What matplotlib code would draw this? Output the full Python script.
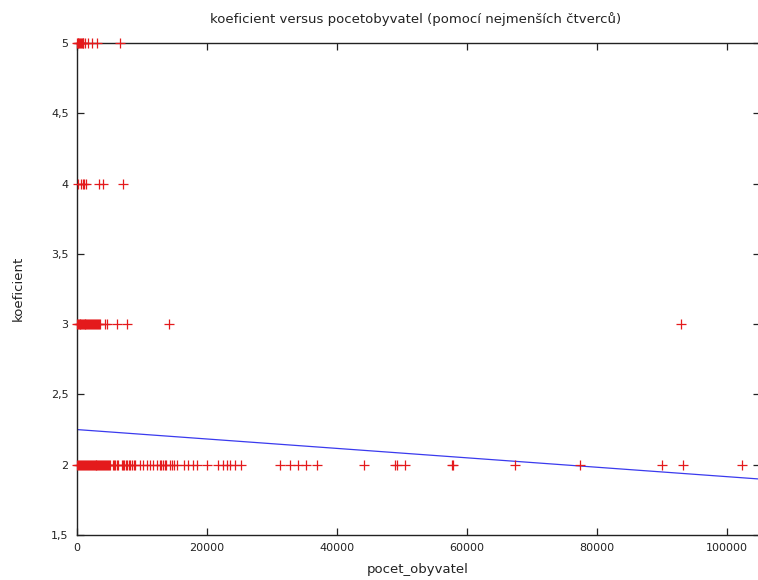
import matplotlib
matplotlib.use("Agg")
import matplotlib.pyplot as plt
from matplotlib.ticker import FuncFormatter

# x values (pocet obyvatel) for each koeficient level
x_level5 = [40, 120, 210, 330, 450, 560, 700, 850, 1000, 1230, 1690, 2300, 3080, 6600]
x_level4 = [150, 620, 870, 1080, 1330, 3430, 4050, 7120]
x_level3 = [30, 150, 280, 400, 520, 650, 780, 900, 1030, 1160, 1290, 1420, 1550, 1700,
            1850, 2000, 2150, 2300, 2450, 2600, 2750, 2900, 3050, 3200, 3350, 3500,
            4300, 4600, 6100, 7650, 14200, 92900]
x_level2 = [20, 150, 300, 450, 600, 750, 900, 1050, 1200, 1350, 1500, 1650, 1800, 1950,
            2100, 2250, 2400, 2550, 2700, 2850, 3000, 3150, 3300, 3450, 3600, 3750,
            3900, 4050, 4200, 4350, 4500, 4650, 4800, 4950, 5100,
            5500, 5700, 5900, 6100, 6300, 6900, 7100, 7300, 7500, 7700,
            8000, 8200, 8450, 8700, 8900,
            9700, 10200, 10700, 11200, 11700, 12300, 12800,
            13000, 13250, 13500, 13700, 14300, 14650, 15000, 15400,
            16500, 17100, 17800, 18500, 19950,
            21700, 22500, 23100, 23600, 24300, 25300,
            31200, 32800, 34000, 35300, 36900, 44150, 48900, 49200, 50450,
            57650, 57850, 67400, 77400, 89950, 93280, 102260]
levels = [5, 4, 3, 2]

# least squares fit line (intercept, slope)
fit_intercept = 2.25
fit_slope = -3.35e-6
fit_x = [0, 105100]

xticks = [0, 20000, 40000, 60000, 80000, 100000]
yticks = [1.5, 2, 2.5, 3, 3.5, 4, 4.5, 5]

title = "koeficient versus pocetobyvatel (pomocí nejmenších čtverců)"
xlabel = "pocet_obyvatel"
ylabel = "koeficient"

plt.rcParams['font.family'] = ['DejaVu Sans']
fig = plt.figure(figsize=(7.58, 5.80), dpi=100)
ax = fig.add_axes([77/758, 45/580, (760-77)/758, (536-44)/580])

for lvl, xs in zip(levels, [x_level5, x_level4, x_level3, x_level2]):
    ax.plot(xs, [lvl]*len(xs), linestyle='none', marker='+', color='#e41a1c',
            markersize=6.5, markeredgewidth=0.9, clip_on=False, zorder=3)

ax.plot(fit_x, [fit_intercept + fit_slope*x for x in fit_x], color='#3a3aee',
        linewidth=0.9, zorder=2)

ax.set_xlim(0, 105080)
ax.set_ylim(1.5, 5)
ax.set_xticks(xticks)
ax.set_yticks(yticks)
ax.yaxis.set_major_formatter(FuncFormatter(lambda v, p: ('%g' % v).replace('.', ',')))
ax.tick_params(direction='in', length=5, width=0.9, top=True, right=True,
               labelsize=8, colors='#222222', pad=6)
for s in ax.spines.values():
    s.set_linewidth(1.0)
    s.set_color('#222222')

fig.text(416/758, 1 - 19/580, title, ha='center', va='center', fontsize=9.5, color='#222222')
fig.text(418/758, 1 - 570/580, xlabel, ha='center', va='center', fontsize=9.5, color='#222222')
fig.text(18/758, 1 - 288/580, ylabel, ha='center', va='center', rotation=90, fontsize=9.5, color='#222222')

fig.savefig("out.png", dpi=100)
